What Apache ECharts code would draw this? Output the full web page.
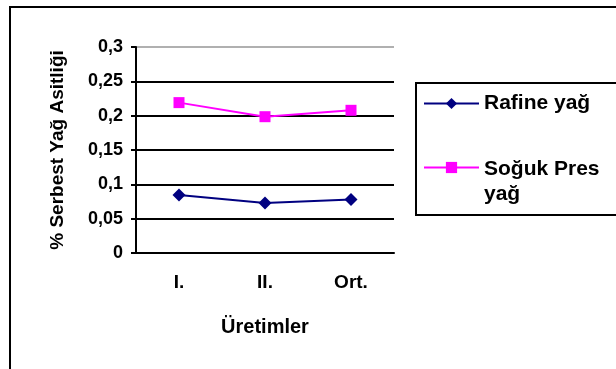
<!DOCTYPE html>
<html>
<head>
<meta charset="utf-8">
<script src="https://cdn.jsdelivr.net/npm/echarts@6/dist/echarts.min.js"></script>
<style>
  html, body { margin: 0; padding: 0; background: #fff; }
  #chart { width: 616px; height: 369px; }
</style>
</head>
<body>
<div id="chart"></div>
<script>
// veriler
const categories = ['I.', 'II.', 'Ort.']
const rafine = [0.0845, 0.0728, 0.078]
const sogukPres = [0.219, 0.1985, 0.2078]
const yTicks = [0, 0.05, 0.1, 0.15, 0.2, 0.25, 0.3]

const font = '"Liberation Sans", Arial, sans-serif'
const chart = echarts.init(document.getElementById('chart'))

const fmt = v => String(+v.toFixed(2)).replace('.', ',')

const option = {
   backgroundColor: '#fff',
   animation: false,
   textStyle: { fontFamily: font },
   grid: { left: 136, top: 47, width: 258, height: 206 },
   graphic: [
      // dış çerçeve
      { type: 'rect', shape: { x: 10, y: 7, width: 700, height: 420 },
        style: { fill: 'none', stroke: '#000', lineWidth: 2 }, z: 0 },
      // lejant çerçevesi
      { type: 'rect', shape: { x: 416, y: 83, width: 300, height: 132 },
        style: { fill: 'none', stroke: '#000', lineWidth: 2 }, z: 0 }
   ],
   legend: {
      orient: 'vertical',
      left: 418,
      top: 86,
      itemWidth: 55,
      itemHeight: 14,
      itemGap: 14,
      data: ['Rafine yağ', 'Soğuk Pres yağ'],
      formatter: name => name === 'Soğuk Pres yağ' ? '{b|Soğuk Pres\nyağ}' : name,
      textStyle: {
         fontFamily: font, fontWeight: 'bold', fontSize: 21, color: '#000', lineHeight: 25,
         rich: {
            b: { fontFamily: font, fontWeight: 'bold', fontSize: 21, color: '#000', lineHeight: 25, padding: [29, 0, 0, 0] }
         }
      }
   },
   xAxis: {
      type: 'category',
      data: categories,
      boundaryGap: true,
      name: 'Üretimler',
      nameLocation: 'middle',
      nameGap: 64,
      nameTextStyle: { fontFamily: font, fontWeight: 'bold', fontSize: 20, color: '#000' },
      axisLine: { lineStyle: { color: '#000', width: 2 } },
      axisTick: { length: 6, lineStyle: { color: '#000', width: 2 } },
      axisLabel: { margin: 20, fontFamily: font, fontWeight: 'bold', fontSize: 19, color: '#000' }
   },
   yAxis: {
      type: 'value',
      min: 0,
      max: 0.3,
      interval: 0.05,
      name: '% Serbest Yağ Asitliği',
      nameLocation: 'middle',
      nameGap: 69,
      nameRotate: 90,
      nameTextStyle: { fontFamily: font, fontWeight: 'bold', fontSize: 19, color: '#000' },
      axisLine: { show: true, lineStyle: { color: '#000', width: 2 } },
      axisTick: { show: true, length: 5, lineStyle: { color: '#000', width: 2 } },
      axisLabel: {
         margin: 13, fontFamily: font, fontWeight: 'bold', fontSize: 18, color: '#000',
         formatter: fmt
      },
      splitLine: {
         show: true,
         lineStyle: { color: yTicks.map(v => v === 0.3 ? '#b0b0b0' : '#000'), width: 2 }
      }
   },
   series: [
      {
         name: 'Rafine yağ',
         type: 'line',
         data: rafine,
         symbol: 'diamond',
         symbolSize: [13, 13],
         lineStyle: { color: '#000080', width: 2 },
         itemStyle: { color: '#000080' }
      },
      {
         name: 'Soğuk Pres yağ',
         type: 'line',
         data: sogukPres,
         symbol: 'rect',
         symbolSize: 11,
         lineStyle: { color: '#ff00ff', width: 2 },
         itemStyle: { color: '#ff00ff' }
      }
   ]
}

chart.setOption(option)
</script>
</body>
</html>
